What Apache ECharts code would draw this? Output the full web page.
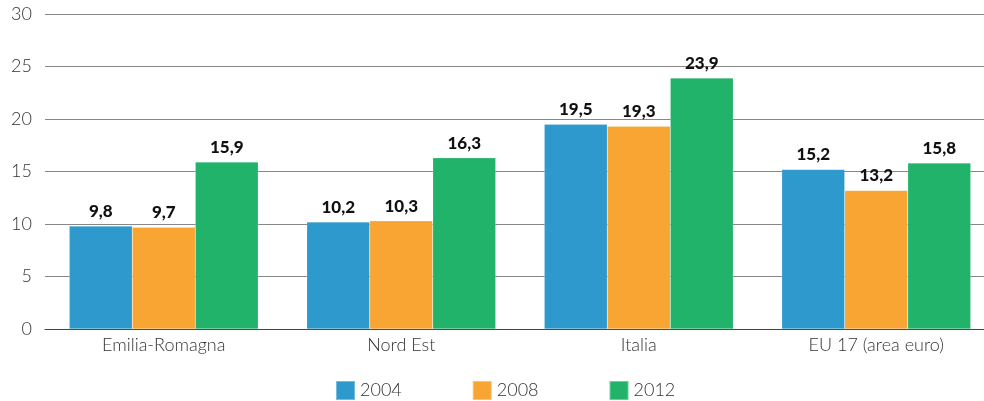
<!DOCTYPE html>
<html>
<head>
<meta charset="utf-8" />
<script src="https://cdn.jsdelivr.net/npm/echarts@6/dist/echarts.min.js"></script>
<style>
  * { margin: 0; padding: 0; }
  body { background: #fff; }
  #chart { width: 984px; height: 401px; }
</style>
</head>
<body>
<div id="chart"></div>
<script>
var categories = ['Emilia-Romagna', 'Nord Est', 'Italia', 'EU 17 (area euro)'];
var years = ['2004', '2008', '2012'];
var values2004 = [9.8, 10.2, 19.5, 15.2];
var values2008 = [9.7, 10.3, 19.3, 13.2];
var values2012 = [15.9, 16.3, 23.9, 15.8];
var colors = ['#2e99cd', '#f9a533', '#22b36b'];

var chart = echarts.init(document.getElementById('chart'));

function makeSeries(name, data, color) {
  return {
    name: name,
    type: 'bar',
    data: data,
    barWidth: 63,
    barGap: '0%',
    itemStyle: { color: color, borderColor: 'rgba(255,255,255,0.35)', borderWidth: 0.5 },
    label: {
      show: true,
      position: 'top',
      distance: 6,
      color: '#111',
      fontFamily: 'Lato',
      fontWeight: 900,
      fontSize: 17,
      formatter: function (p) { return String(p.value).replace('.', ','); }
    }
  };
}

chart.setOption({
  animation: false,
  textStyle: { fontFamily: 'Lato' },
  grid: { left: 45, right: -11, top: 14, bottom: 72, containLabel: false, outerBoundsMode: 'none' },
  legend: {
    top: 375,
    left: 330,
    itemWidth: 19,
    itemHeight: 19,
    itemGap: 70,
    icon: 'rect',
    textStyle: { color: '#333', fontSize: 18, fontFamily: 'Lato', fontWeight: 300 },
    data: years
  },
  xAxis: {
    type: 'category',
    data: categories,
    axisTick: { show: false },
    axisLine: { lineStyle: { color: '#444', width: 1 } },
    axisLabel: { color: '#333', fontSize: 18, fontFamily: 'Lato', fontWeight: 300, margin: 7 }
  },
  yAxis: {
    type: 'value',
    min: 0,
    max: 30,
    interval: 5,
    axisLine: { show: false },
    axisTick: { show: false },
    axisLabel: { color: '#333', fontSize: 18, fontFamily: 'Lato', fontWeight: 300, margin: 13 },
    splitLine: { lineStyle: { color: '#888', width: 1 } }
  },
  series: [
    makeSeries(years[0], values2004, colors[0]),
    makeSeries(years[1], values2008, colors[1]),
    makeSeries(years[2], values2012, colors[2])
  ]
});
</script>
</body>
</html>
